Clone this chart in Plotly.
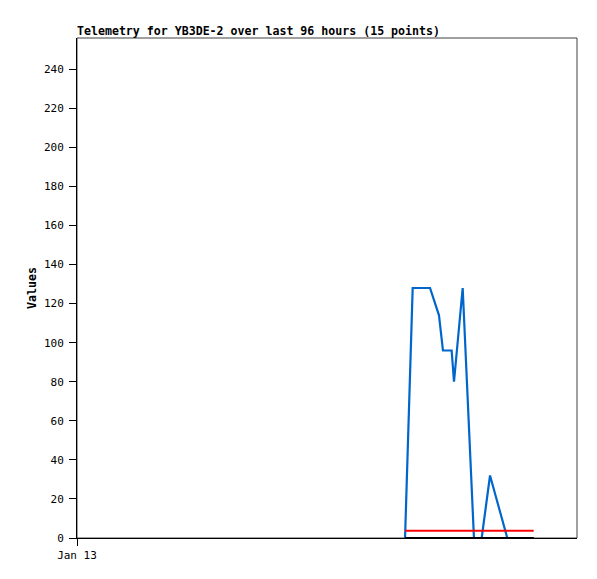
import plotly.graph_objects as go

times = ["2024-01-15 14:59", "2024-01-15 16:27", "2024-01-15 19:47", "2024-01-15 20:45",
         "2024-01-15 21:30", "2024-01-15 22:16", "2024-01-15 23:56", "2024-01-16 00:23",
         "2024-01-16 02:03", "2024-01-16 04:13", "2024-01-16 05:42", "2024-01-16 07:18",
         "2024-01-16 10:37", "2024-01-16 13:04", "2024-01-16 15:41"]
blue_vals = [0, 128, 128, 120, 114, 96, 96, 80, 128, 0, 0, 32, 0, 0, 0]
red_vals = [3.7] * 15
black_vals = [0] * 15

x_range = ["2024-01-13 00:00", "2024-01-17 00:00"]
y_range = [0, 256]
y_ticks = list(range(0, 241, 20))
x_tickvals = ["2024-01-13 00:00"]
x_ticktext = ["Jan 13"]

font_family = "DejaVu Sans Mono, Liberation Mono, monospace"

fig = go.Figure()
fig.add_trace(go.Scatter(x=times, y=blue_vals, mode="lines",
                         line=dict(color="#0066cc", width=2.2), showlegend=False))
fig.add_trace(go.Scatter(x=times, y=red_vals, mode="lines",
                         line=dict(color="#ff0000", width=2.2), showlegend=False))
fig.add_trace(go.Scatter(x=times, y=black_vals, mode="lines",
                         line=dict(color="#000000", width=2.2), showlegend=False))

fig.update_layout(
    width=589, height=571,
    margin=dict(l=69, r=20, t=30, b=41),
    paper_bgcolor="white", plot_bgcolor="white",
    font=dict(family=font_family, size=11, color="black"),
    shapes=[dict(type="rect", xref="paper", yref="paper", x0=0, x1=1, y0=0, y1=1,
                 line=dict(color="#404040", width=1), layer="below")],
    annotations=[dict(text="<b>Telemetry for YB3DE-2 over last 96 hours (15 points)</b>",
                      xref="paper", yref="paper", x=0, y=1, xanchor="left", yanchor="bottom",
                      xshift=-2, yshift=-2, showarrow=False,
                      font=dict(size=11.6, family=font_family))],
)
fig.update_xaxes(type="date", range=x_range, tickvals=x_tickvals, ticktext=x_ticktext,
                 showgrid=False, zeroline=False, showline=True, linecolor="black", linewidth=1,
                 ticks="outside", ticklen=7, tickcolor="black", tickfont=dict(size=11))
fig.update_yaxes(range=y_range, tickvals=y_ticks, showgrid=False, zeroline=False,
                 showline=True, linecolor="black", linewidth=1,
                 ticks="outside", ticklen=7, tickcolor="black", tickfont=dict(size=11),
                 ticklabelstandoff=3,
                 title=dict(text="<b>Values</b>", font=dict(size=11.6), standoff=4))

fig.write_html("out.html")
